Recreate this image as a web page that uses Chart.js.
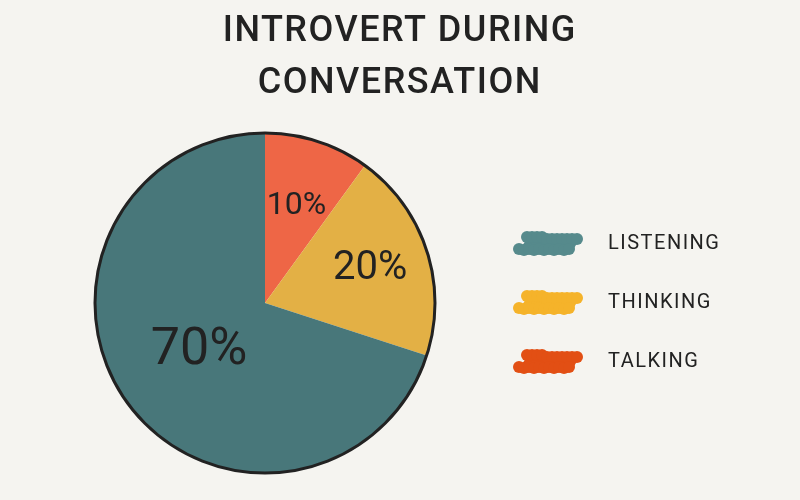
<!DOCTYPE html>
<html>
<head>
<meta charset="utf-8">
<script src="https://cdn.jsdelivr.net/npm/chart.js@4.4.0/dist/chart.umd.min.js"></script>
<style>
  html, body { margin: 0; padding: 0; background: #f5f4f0; }
  #wrap { width: 800px; height: 500px; }
</style>
</head>
<body>
<div id="wrap"><canvas id="myChart" width="800" height="500"></canvas></div>
<script>
// data, clockwise from 12 o'clock
var categories = ['TALKING', 'THINKING', 'LISTENING'];
var shares = [10, 20, 70];
var titleLines = ['INTROVERT DURING', 'CONVERSATION'];

var sliceColors = ['#ee6646', '#e3b045', '#48777a'];
var swatchColors = ['#e24f14', '#f5b32a', '#568a8c'];
var labelFontSizes = [32, 40, 52];
var labelRadius = [0.6, 0.65, 0.48]; // fraction of radius

var ink = '#222222';
var spacing = '1.5px';
var legendFont = { family: 'Roboto', size: 20 };
var legendPad = 39;
var swatchBox = 98;

// scribbly colour swatch for the legend
function makeSwatch(color) {
    var c = document.createElement('canvas');
    c.width = 76; c.height = 28;
    var g = c.getContext('2d');
    g.fillStyle = color;
    g.beginPath();
    g.moveTo(16, 9); g.lineTo(68, 10); g.lineTo(62, 20); g.lineTo(8, 20);
    g.closePath();
    g.fill();
    var x;
    for (x = 16; x <= 68; x += 5) {
        g.beginPath();
        g.arc(x, (x < 32 ? 7 : 9) + (x % 10 === 0 ? 1 : 0), 6, 0, Math.PI * 2);
        g.fill();
    }
    for (x = 8; x <= 62; x += 5) {
        g.beginPath();
        g.arc(x, 19 + (x % 10 === 3 ? 1 : 0), 6, 0, Math.PI * 2);
        g.fill();
    }
    return c;
}
var swatches = swatchColors.map(makeSwatch);

// measure longest legend text (with spacing) so the legend sits where it should
var mctx = document.createElement('canvas').getContext('2d');
mctx.font = legendFont.size + 'px ' + legendFont.family;
mctx.letterSpacing = spacing;
var longest = Math.max.apply(null, categories.map(function (t) { return mctx.measureText(t).width; }));
var legendWidth = swatchBox + legendFont.size / 2 + longest + legendPad + 10;
var padRight = Math.max(0, 800 - 461 - legendWidth);

// letter spacing for title + legend, set before layout so the legend measures it too
var spacingPlugin = {
    id: 'spacing',
    beforeLayout: function (chart) {
        chart.ctx.letterSpacing = spacing;
    },
    beforeDraw: function (chart) {
        chart.ctx.letterSpacing = spacing;
    },
    afterDraw: function (chart) {
        chart.ctx.letterSpacing = '0px';
    }
};

var outlinePlugin = {
    id: 'outlineAndLabels',
    afterDatasetsDraw: function (chart) {
        var ctx = chart.ctx;
        var arcs = chart.getDatasetMeta(0).data;
        if (!arcs.length) return;
        var p0 = arcs[0].getProps(['x', 'y', 'outerRadius'], true);
        ctx.save();
        ctx.letterSpacing = '0px';
        ctx.beginPath();
        ctx.arc(p0.x, p0.y, p0.outerRadius, 0, Math.PI * 2);
        ctx.lineWidth = 3;
        ctx.strokeStyle = ink;
        ctx.stroke();

        ctx.fillStyle = ink;
        ctx.textAlign = 'center';
        ctx.textBaseline = 'middle';
        arcs.forEach(function (arc, i) {
            var p = arc.getProps(['x', 'y', 'startAngle', 'endAngle', 'outerRadius'], true);
            var mid = (p.startAngle + p.endAngle) / 2;
            var r = p.outerRadius * labelRadius[i];
            ctx.font = labelFontSizes[i] + 'px Roboto';
            ctx.fillText(shares[i] + '%', p.x + Math.cos(mid) * r, p.y + Math.sin(mid) * r);
        });
        ctx.restore();
    }
};

new Chart(document.getElementById('myChart'), {
    type: 'pie',
    data: {
        labels: categories,
        datasets: [{
            data: shares,
            backgroundColor: sliceColors,
            borderWidth: 0
        }]
    },
    options: {
        responsive: false,
        animation: false,
        layout: { padding: { left: 69, right: padRight, top: 0, bottom: 27 } },
        plugins: {
            tooltip: { enabled: false },
            title: {
                display: true,
                text: titleLines,
                color: ink,
                font: { family: 'Roboto', size: 36, weight: '500', lineHeight: 52 / 36 },
                padding: { top: 6, bottom: 23 }
            },
            legend: {
                position: 'right',
                fullSize: false,
                reverse: true,
                labels: {
                    usePointStyle: true,
                    pointStyleWidth: swatchBox,
                    padding: legendPad,
                    color: ink,
                    font: legendFont,
                    generateLabels: function (chart) {
                        return chart.data.labels.map(function (t, i) {
                            return {
                                text: t,
                                fillStyle: swatchColors[i],
                                strokeStyle: 'transparent',
                                lineWidth: 0,
                                pointStyle: swatches[i],
                                hidden: false,
                                index: i,
                                fontColor: ink
                            };
                        });
                    }
                }
            }
        }
    },
    plugins: [spacingPlugin, outlinePlugin]
});
</script>
</body>
</html>
